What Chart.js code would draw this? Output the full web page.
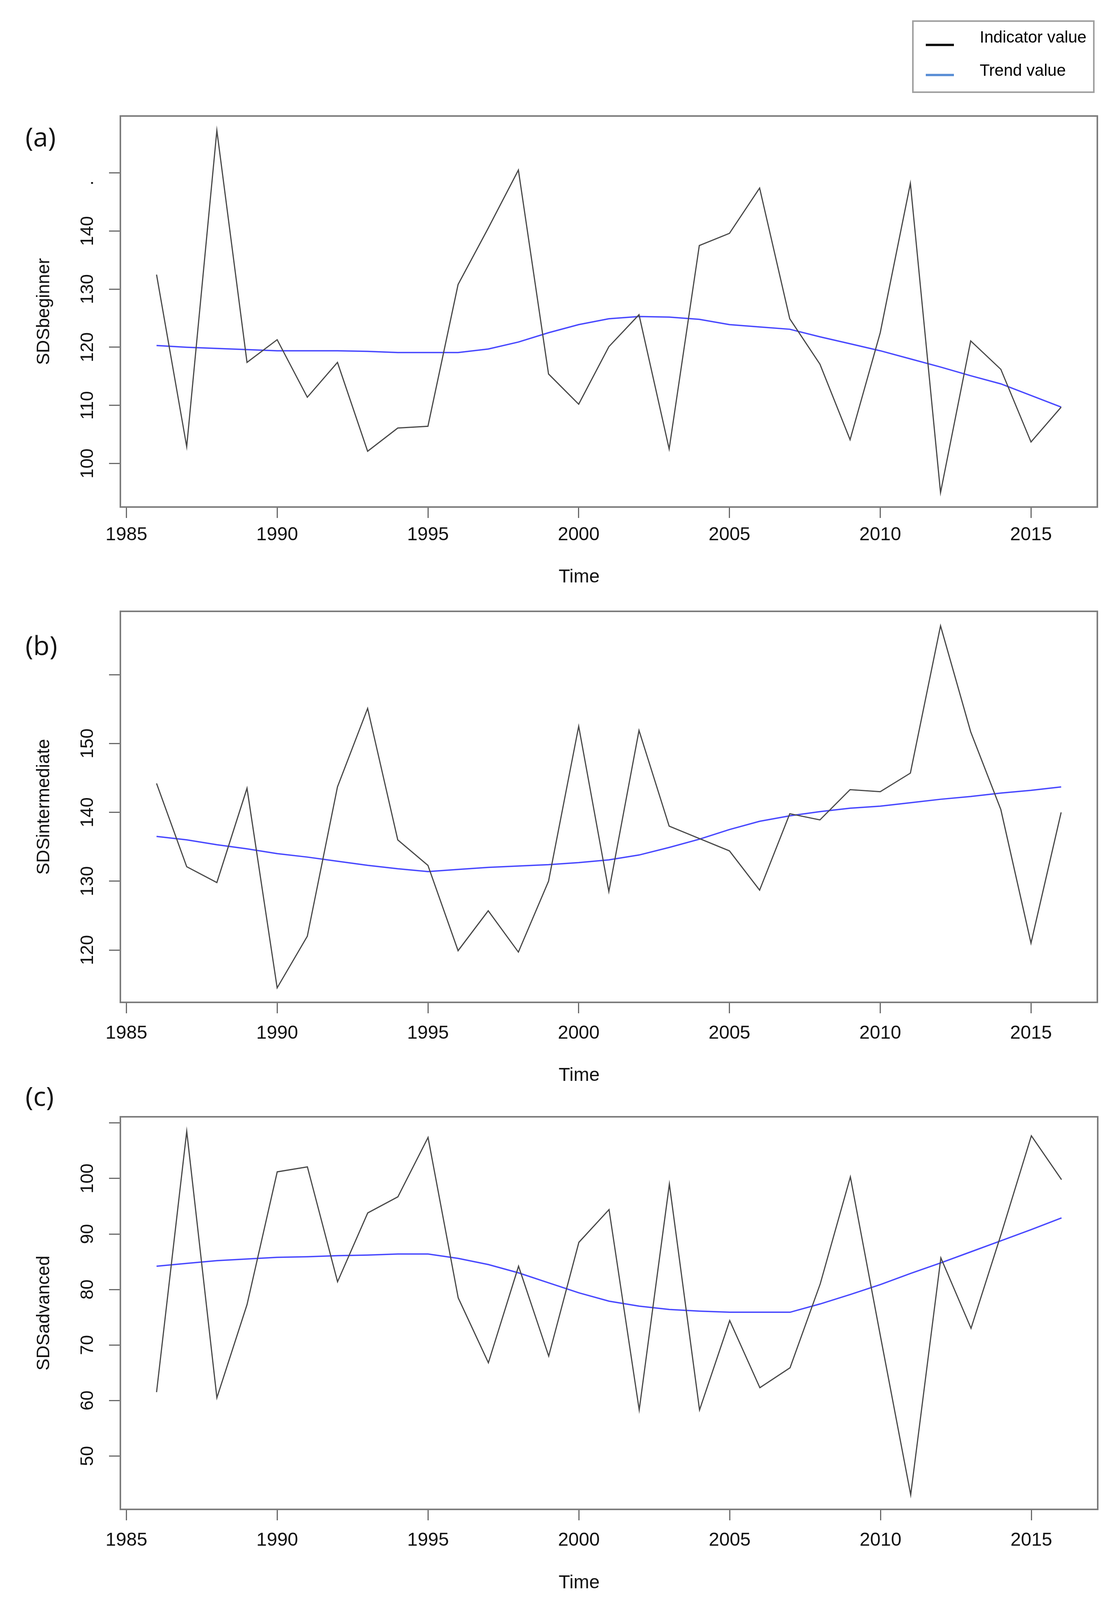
<!DOCTYPE html>
<html>
<head>
<meta charset="utf-8">
<script src="https://cdn.jsdelivr.net/npm/chart.js@4.4.0/dist/chart.umd.min.js"></script>
<style>
  body { margin: 0; background: #fff; width: 2866px; height: 5473px; position: relative; overflow: hidden; }
  canvas { position: absolute; left: 0; }
</style>
</head>
<body>
<canvas id="pa"></canvas>
<canvas id="pb"></canvas>
<canvas id="pc"></canvas>
<canvas id="pd"></canvas>
<script>
// years and x ticks
const years = [1986, 1987, 1988, 1989, 1990, 1991, 1992, 1993, 1994, 1995, 1996,
  1997, 1998, 1999, 2000, 2001, 2002, 2003, 2004, 2005, 2006, 2007, 2008, 2009,
  2010, 2011, 2012, 2013, 2014, 2015, 2016];
const xTicks = [1985, 1990, 1995, 2000, 2005, 2010, 2015];

// (a) beginner
const beginner = [132.5, 102.9, 157.3, 117.4, 121.3, 111.4, 117.4, 102.1, 106.1, 106.4,
  130.8, 140.5, 150.5, 115.4, 110.2, 120.1, 125.6, 102.5, 137.5, 139.6,
  147.4, 124.9, 117.1, 104.1, 122.5, 148.2, 95.0, 121.1, 116.2, 103.7, 109.7];
const beginnerTrend = [120.3, 120.0, 119.8, 119.6, 119.4, 119.4, 119.4, 119.3, 119.1, 119.1,
  119.1, 119.7, 120.9, 122.5, 123.9, 124.9, 125.3, 125.2, 124.8, 123.9,
  123.5, 123.1, 121.8, 120.6, 119.4, 118.0, 116.6, 115.1, 113.7, 111.7, 109.7];
const beginnerTicks = [100, 110, 120, 130, 140, 150];
const beginnerLabels = ["100", "110", "120", "130", "140", ".    "];

// (b) intermediate
const intermediate = [144.2, 132.1, 129.8, 143.5, 114.5, 122.0, 143.7, 155.1, 136.0, 132.3,
  119.9, 125.7, 119.7, 130.0, 152.5, 128.5, 151.9, 138.0, 136.2, 134.4,
  128.7, 139.8, 138.9, 143.3, 143.0, 145.7, 167.1, 151.7, 140.4, 121.0, 140.0];
const intermediateTrend = [136.5, 136.0, 135.3, 134.7, 134.0, 133.5, 132.9, 132.3, 131.8, 131.4,
  131.7, 132.0, 132.2, 132.4, 132.7, 133.1, 133.8, 134.9, 136.1, 137.5,
  138.7, 139.5, 140.1, 140.6, 140.9, 141.4, 141.9, 142.3, 142.8, 143.2, 143.7];
const intermediateTicks = [120, 130, 140, 150, 160];
const intermediateLabels = ["120", "130", "140", "150", ""];

// (c) advanced
const advanced = [61.5, 108.5, 60.5, 77.3, 101.2, 102.1, 81.4, 93.8, 96.7, 107.4,
  78.5, 66.8, 84.2, 68.0, 88.5, 94.4, 58.3, 99.0, 58.3, 74.4,
  62.3, 65.9, 81.0, 100.3, 71.5, 43.0, 85.7, 73.0, 90.0, 107.7, 99.8];
const advancedTrend = [84.2, 84.7, 85.2, 85.5, 85.8, 85.9, 86.1, 86.2, 86.4, 86.4,
  85.6, 84.5, 83.0, 81.2, 79.4, 77.9, 77.0, 76.4, 76.1, 75.9,
  75.9, 75.9, 77.4, 79.1, 80.9, 82.9, 84.8, 86.8, 88.8, 90.8, 92.9];
const advancedTicks = [50, 60, 70, 80, 90, 100, 110];
const advancedLabels = ["50", "60", "70", "80", "90", "100", ""];

// (d) big wave
const bigwave = [0.88, 5.81, 0.05, 4.42, 4.86, 3.77, 3.21, 0.0, 3.0, 3.32,
  2.37, 3.79, 3.14, 2.07, 1.42, 2.74, 1.38, 0.93, 2.73, 0.09,
  1.53, 2.09, 3.61, 3.21, 8.02, 1.58, 2.99, 0.6, 1.74, 9.99, 1.58];
const bigwaveTrend = [3.95, 3.86, 3.74, 3.63, 3.53, 3.44, 3.35, 3.26, 3.12, 2.96,
  2.77, 2.6, 2.44, 2.31, 2.23, 2.17, 2.12, 2.07, 2.06, 2.04,
  2.03, 2.01, 1.99, 1.95, 1.94, 1.93, 1.92, 1.89, 1.87, 1.84, 1.80];
const bigwaveTicks = [0, 2, 4, 6, 8, 10];
const bigwaveLabels = ["0", "2", "4", "6", "8", ""];

const seriesNames = ["Indicator value", "Trend value"];

// page layout of each panel: canvas band and plot box (left, top, right, bottom) in page px
const panels = [
  { id: "pa", letter: "(a)", title: "SDSbeginner", values: beginner, trend: beginnerTrend,
    ticks: beginnerTicks, labels: beginnerLabels,
    top: 0, height: 1600, box: [308, 297, 2808, 1298], labelOff: 69, timeOff: 180,
    letterX: 65, letterY: 356, tickX: 225, titleX: 113, legend: true },
  { id: "pb", letter: "(b)", title: "SDSintermediate", values: intermediate, trend: intermediateTrend,
    ticks: intermediateTicks, labels: intermediateLabels,
    top: 1500, height: 1400, box: [308, 1565, 2808, 2566], labelOff: 77, timeOff: 188,
    letterX: 65, letterY: 1658, tickX: 225, titleX: 113 },
  { id: "pc", letter: "(c)", title: "SDSadvanced", values: advanced, trend: advancedTrend,
    ticks: advancedTicks, labels: advancedLabels,
    top: 2700, height: 1450, box: [308, 2859, 2809, 3864], labelOff: 77, timeOff: 189,
    letterX: 65, letterY: 2812, tickX: 225, titleX: 113 },
  { id: "pd", letter: "(d)", title: "SDSbigwave", values: bigwave, trend: bigwaveTrend,
    ticks: bigwaveTicks, labels: bigwaveLabels,
    top: 4050, height: 1423, box: [287, 4166, 2819, 5223], labelOff: 86, timeOff: 198,
    letterX: 37, letterY: 4195, tickX: 213, titleX: 113 }
];

const INK = "#484848";
const TREND = "#4848ff";
const FRAME = "#7c7c7c";
const FONT = "'Liberation Sans', Arial, sans-serif";

function makeChart(p) {
  const canvas = document.getElementById(p.id);
  canvas.width = 2866;
  canvas.height = p.height;
  canvas.style.top = p.top + "px";
  canvas.style.width = "2866px";
  canvas.style.height = p.height + "px";

  const [bl, bt, br, bb] = p.box;
  // R style axis range: data range widened by 4% on each side
  const lo = Math.min(...p.values), hi = Math.max(...p.values);
  const pad = (hi - lo) * 0.04;
  const xPad = (years[years.length - 1] - years[0]) * 0.04;

  const rStyle = {
    id: "rStyle",
    afterDraw(chart) {
      const ctx = chart.ctx;
      const a = chart.chartArea;
      const ys = chart.scales.y;
      ctx.save();
      ctx.strokeStyle = FRAME;
      ctx.lineWidth = 4;
      ctx.strokeRect(a.left, a.top, a.right - a.left, a.bottom - a.top);

      // y tick labels, parallel to the axis like R
      ctx.fillStyle = "#111";
      ctx.textAlign = "center";
      ctx.textBaseline = "middle";
      ctx.font = "46px " + FONT;
      p.ticks.forEach((v, i) => {
        const y = ys.getPixelForValue(v);
        ctx.save();
        ctx.translate(p.tickX, y);
        ctx.rotate(-Math.PI / 2);
        ctx.fillText(p.labels[i], 0, 0);
        ctx.restore();
      });

      ctx.save();
      ctx.translate(p.titleX, (a.top + a.bottom) / 2);
      ctx.rotate(-Math.PI / 2);
      ctx.fillText(p.title, 0, 0);
      ctx.restore();

      ctx.font = "48px " + FONT;
      ctx.fillText("Time", 1482, a.bottom + p.timeOff);

      ctx.textAlign = "left";
      ctx.fillStyle = "#111";
      ctx.font = "68px 'Open Sans', sans-serif";
      ctx.fillText(p.letter, p.letterX, p.letterY - p.top);

      if (p.legend) {
        ctx.strokeStyle = "#a0a0a0";
        ctx.lineWidth = 4;
        ctx.strokeRect(2336, 54, 463, 182);
        ctx.lineWidth = 6;
        ctx.strokeStyle = "#111";
        ctx.beginPath(); ctx.moveTo(2369, 115); ctx.lineTo(2441, 115); ctx.stroke();
        ctx.strokeStyle = "#5b8fd6";
        ctx.beginPath(); ctx.moveTo(2369, 192); ctx.lineTo(2441, 192); ctx.stroke();
        ctx.fillStyle = "#000";
        ctx.font = "42px " + FONT;
        ctx.fillText(seriesNames[0], 2507, 97);
        ctx.fillText(seriesNames[1], 2507, 182);
      }
      ctx.restore();
    }
  };

  return new Chart(canvas, {
    type: "line",
    data: {
      datasets: [
        {
          label: seriesNames[0],
          data: years.map((yr, i) => ({ x: yr, y: p.values[i] })),
          borderColor: INK,
          borderWidth: 3,
          pointRadius: 0,
          tension: 0
        },
        {
          label: seriesNames[1],
          data: years.map((yr, i) => ({ x: yr, y: p.trend[i] })),
          borderColor: TREND,
          borderWidth: 3.5,
          pointRadius: 0,
          tension: 0
        }
      ]
    },
    options: {
      responsive: false,
      devicePixelRatio: 1,
      animation: false,
      layout: { padding: { left: 0, top: bt - p.top, right: 2866 - br, bottom: 0 } },
      plugins: { legend: { display: false }, tooltip: { enabled: false } },
      scales: {
        x: {
          type: "linear",
          min: years[0] - xPad,
          max: years[years.length - 1] + xPad,
          afterBuildTicks: s => { s.ticks = xTicks.map(v => ({ value: v })); },
          afterFit: s => { s.height = p.height - (bb - p.top); },
          border: { display: false },
          grid: { drawOnChartArea: false, drawTicks: true, tickLength: 28, tickColor: "#6a6a6a", tickWidth: 3 },
          ticks: {
            callback: v => String(v),
            font: { family: FONT, size: 48 },
            color: "#111",
            padding: p.labelOff - 54,
            maxRotation: 0,
            autoSkip: false
          }
        },
        y: {
          type: "linear",
          min: lo - pad,
          max: hi + pad,
          afterBuildTicks: s => { s.ticks = p.ticks.map(v => ({ value: v })); },
          afterFit: s => { s.width = bl; },
          border: { display: false },
          grid: { drawOnChartArea: false, drawTicks: true, tickLength: 29, tickColor: "#6a6a6a", tickWidth: 3 },
          ticks: { display: false }
        }
      }
    },
    plugins: [rStyle]
  });
}

panels.forEach(makeChart);
</script>
</body>
</html>
